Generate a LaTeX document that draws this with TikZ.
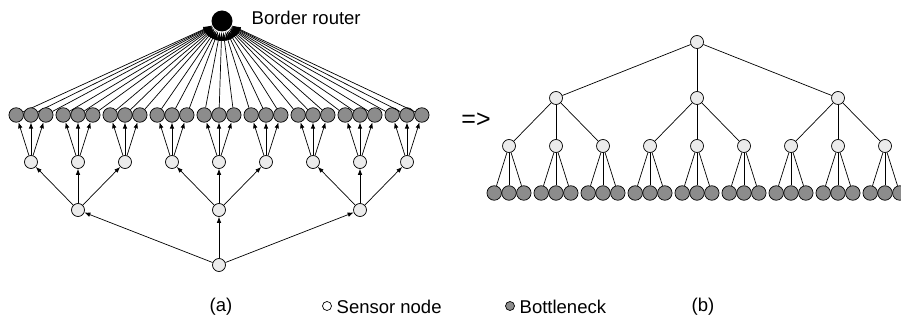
\documentclass[tikz,border=0pt]{standalone}
\usepackage{fontspec}
\setmainfont{Liberation Sans}
\usetikzlibrary{arrows.meta}

\begin{document}
\begin{tikzpicture}[x=1pt,y=-1pt,line width=0.7pt,font=\fontsize{18.5}{22}\selectfont,
  sensor/.style={circle,draw,fill=black!8,inner sep=0pt,minimum size=13},
  neck/.style={circle,draw,fill=black!45,inner sep=0pt,minimum size=14.5},
  router/.style={circle,fill=black,inner sep=0pt,minimum size=21},
  up/.style={-{Latex[length=6pt,width=4.5pt]}},
  uplink/.style={-{Latex[length=9pt,width=5pt]}}]

 \useasboundingbox (0,0) rectangle (901,320);
 \clip (0,0) rectangle (901,320);

 % (a)
 \node[router] (br) at (222,21) {};
 \node[anchor=west] (brl) at (248,18) {Border router};
 \node[sensor] (r) at (219,265) {};
 \foreach \i/\x in {0/78,1/219,2/360} {
   \node[sensor] (u\i) at (\x,210) {};
   \draw[up] (r) -- (u\i);
 }
 \foreach \g in {0,...,8} {
   \pgfmathsetmacro\cx{31+47*\g}
   \pgfmathtruncatemacro\p{\g/3}
   \node[sensor] (v\g) at (\cx,162) {};
   \draw[up] (u\p) -- (v\g);
   \foreach \j in {0,1,2} {
     \node[neck] (w\g\j) at (\cx-14.8+14.8*\j,115) {};
     \draw[up] (v\g) -- (w\g\j);
     \draw[uplink] (w\g\j) -- (br);
   }
 }

 % (b)
 \node[font=\fontsize{25}{28}\selectfont] (imp) at (476,120) {=>};
 \node[sensor] (t) at (697,42) {};
 \foreach \i in {0,1,2} {
   \node[sensor] (s\i) at (556+141*\i,98) {};
   \draw (t) -- (s\i);
 }
 \foreach \g in {0,...,8} {
   \pgfmathsetmacro\cx{509+47*\g}
   \pgfmathtruncatemacro\p{\g/3}
   \node[sensor] (m\g) at (\cx,146) {};
   \draw (s\p) -- (m\g);
   \foreach \j in {0,1,2} {
     \node[neck] (l\g\j) at (\cx-14.8+14.8*\j,193) {};
     \draw (m\g) -- (l\g\j);
   }
 }

 % legend
 \node (capa) at (221,307) {(a)};
 \node[circle,draw,fill=white,inner sep=0pt,minimum size=9] (key1) at (327,306) {};
 \node[anchor=west] (key1l) at (333,307) {Sensor node};
 \node[circle,draw,fill=black!45,inner sep=0pt,minimum size=9] (key2) at (510,306) {};
 \node[anchor=west] (key2l) at (516,307) {Bottleneck};
 \node (capb) at (703,307) {(b)};
\end{tikzpicture}
\end{document}
